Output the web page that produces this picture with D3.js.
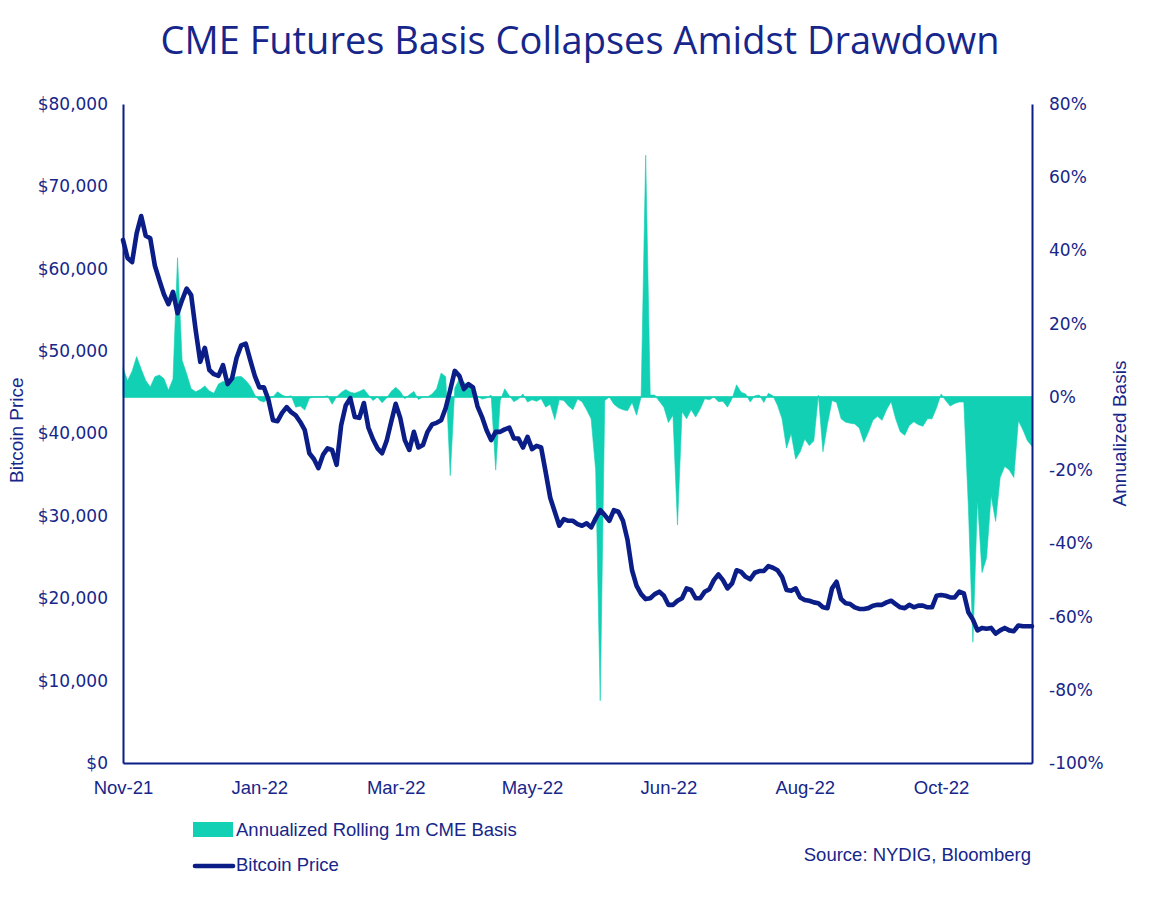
<!DOCTYPE html>
<html>
<head>
<meta charset="utf-8">
<script src="https://cdn.jsdelivr.net/npm/d3@7"></script>
<style>
  html, body { margin: 0; padding: 0; background: #ffffff; }
  svg { display: block; }
</style>
</head>
<body>
<svg id="chart" width="1160" height="905"></svg>
<script>
// ---------------- DATA ----------------
const title = "CME Futures Basis Collapses Amidst Drawdown";
const tickLabels = ["Nov-21", "Jan-22", "Mar-22", "May-22", "Jun-22", "Aug-22", "Oct-22"];
const tickIndex = [0, 30, 60, 90, 120, 150, 180];   // category (observation) index of each label
const priceTicks = [0, 10000, 20000, 30000, 40000, 50000, 60000, 70000, 80000];
const basisTicks = [-100, -80, -60, -40, -20, 0, 20, 40, 60, 80];

// Bitcoin price (USD), one value per observation
const btcPrice = [
  63500, 61300, 60800, 64300, 66400, 64000, 63700, 60400, 58600, 56900,
  55700, 57200, 54600, 56200, 57600, 56800, 52500, 48700, 50400, 47700,
  47200, 47000, 48300, 46000, 46700, 49200, 50700, 50900, 48900, 47000,
  45600, 45600, 44100, 41600, 41500, 42500, 43200, 42600, 42200, 41400,
  40400, 37600, 36900, 35800, 37400, 38200, 38000, 36200, 41000, 43400,
  44300, 42000, 41900, 43700, 40700, 39300, 38200, 37600, 39100, 41400,
  43600, 41900, 39200, 38000, 40200, 38300, 38600, 40200, 41100, 41300,
  41600, 43100, 45300, 47600, 47000, 45400, 46000, 45600, 43300, 42000,
  40400, 39200, 40200, 40200, 40500, 40700, 39400, 39400, 38300, 39600,
  38100, 38500, 38300, 35300, 32200, 30500, 28800, 29600, 29400, 29400,
  29000, 28800, 29100, 28600, 29700, 30700, 30100, 29400, 30700, 30500,
  29400, 27100, 23400, 21500, 20500, 19900, 20000, 20500, 20800, 20300,
  19200, 19200, 19700, 20000, 21200, 21000, 20000, 20000, 20800, 21100,
  22200, 22900, 22200, 21200, 21800, 23400, 23200, 22600, 22300, 23100,
  23300, 23300, 23900, 23700, 23400, 22600, 21000, 20900, 21200, 20100,
  19800, 19700, 19500, 19400, 18900, 18800, 21200, 22000, 19900, 19400,
  19300, 18900, 18700, 18700, 18800, 19100, 19200, 19200, 19500, 19700,
  19300, 18900, 18800, 19200, 18900, 19100, 19100, 18900, 18900, 20300,
  20400, 20300, 20100, 20100, 20800, 20600, 18300, 17400, 16100, 16400,
  16300, 16400, 15700, 16100, 16400, 16100, 16000, 16700, 16600, 16600,
  16600
];

// Annualized rolling 1m CME basis (%), one value per observation
const cmeBasis = [
  8, 4.4, 7, 11, 7.6, 4.5, 2.7, 5.5, 6, 5,
  1.8, 4.9, 38, 10, 6.3, 2.2, 1.4, 2, 3, 1.6,
  1, 3.5, 4.2, 4, 5, 5.5, 5.6, 4.5, 3, 0.5,
  -1, -1.4, -0.5, 0, 1.4, 0.5, 0, 0.3, -2.8, -2.5,
  -3.6, -0.4, 0, 0, 0, 0.3, -2, 0, 1.2, 2,
  1.3, 1, 1.5, 2.1, 0.5, -1, 0, -1.6, -0.3, 1.5,
  2.6, 1.5, -0.5, 0.6, 1.5, -0.7, 0, 0, 0.8, 2.2,
  6.5, 5.5, -21.5, 2.4, 4.9, 4, 3, 2.2, 0.2, -0.6,
  -0.3, 0.5, -20, -1, 2.2, 0.3, -1.3, -0.6, 0.8, -1.4,
  -0.8, -1.2, -0.5, -2.8, -2, -6.2, -0.8, -1, -2.5, -3.5,
  -0.6, -1.3, -3.5, -6, -20, -83, -1, 0, -2, -3,
  -3.5, -3.8, -1.5, -5, 0, 66, 0.5, 0.5, -1.2, -2.8,
  -7, -5, -35, -4, -6, -3.5, -5.5, -3.3, -0.5, -0.8,
  0, -1.3, -1.2, -2.8, -0.5, 3.3, 1.3, 0.8, -1.4, 0.3,
  0.5, -1.5, 1, 0.3, -2.3, -6, -14, -10, -17, -15,
  -11.5, -13.3, -12, 0.5, -15, -7.5, -1, -1.5, -6, -6.9,
  -7.2, -7.4, -8.5, -12.4, -9.6, -6.4, -5.3, -6.4, -3.5, -1.3,
  -6, -9.5, -10.5, -7.8, -6.8, -7.6, -8, -6, -6, -3,
  0.8, -1, -2.5, -1.8, -1.4, -1.4, -30, -67, -28, -48,
  -44, -27, -34, -22, -19, -20, -22, -6.5, -9, -12,
  -13.5
];

const seriesNames = ["Annualized Rolling 1m CME Basis", "Bitcoin Price"];
const sourceText = "Source: NYDIG, Bloomberg";
const leftTitle = "Bitcoin Price";
const rightTitle = "Annualized Basis";

// ---------------- CHART ----------------
const navy = "#0b1d86";
const textNavy = "#16268a";
const teal = "#12d0b3";

const W = 1160, H = 905;
const M = { top: 104, right: 128, bottom: 142, left: 123 };
const iw = W - M.left - M.right, ih = H - M.top - M.bottom;

const svg = d3.select("#chart");
const g = svg.append("g").attr("transform", `translate(${M.left},${M.top})`);

const x = d3.scaleLinear().domain([0, btcPrice.length - 1]).range([0, iw]);
const yP = d3.scaleLinear().domain([0, 80000]).range([ih, 0]);
const yB = d3.scaleLinear().domain([-100, 80]).range([ih, 0]);

// area (basis)
const area = d3.area()
  .x((d, i) => x(i))
  .y0(yB(0))
  .y1(d => yB(d));
g.append("path")
  .datum(cmeBasis)
  .attr("d", area)
  .attr("fill", teal)
  .attr("stroke", teal)
  .attr("stroke-width", 0.6);
g.append("line")
  .attr("x1", 0).attr("x2", iw)
  .attr("y1", yB(0)).attr("y2", yB(0))
  .attr("stroke", teal).attr("stroke-width", 1.5);

// price line
const line = d3.line()
  .x((d, i) => x(i))
  .y(d => yP(d));
g.append("path")
  .datum(btcPrice)
  .attr("d", line)
  .attr("fill", "none")
  .attr("stroke", navy)
  .attr("stroke-width", 4.6)
  .attr("stroke-linejoin", "round")
  .attr("stroke-linecap", "round");

// axes
const tickFont = "'DejaVu Sans', sans-serif";
const labFont = "'Liberation Sans', Arial, sans-serif";

const axL = g.append("g")
  .call(d3.axisLeft(yP).tickValues(priceTicks).tickSize(0).tickPadding(15)
    .tickFormat(d => "$" + d3.format(",")(d)));
const axR = g.append("g").attr("transform", `translate(${iw},0)`)
  .call(d3.axisRight(yB).tickValues(basisTicks).tickSize(0).tickPadding(17)
    .tickFormat(d => d + "%"));
const axB = g.append("g").attr("transform", `translate(0,${ih})`)
  .call(d3.axisBottom(x).tickValues(tickIndex).tickSize(0).tickPadding(18)
    .tickFormat((d, i) => tickLabels[i]));

[axL, axR, axB].forEach(a => {
  a.select(".domain").attr("stroke", navy).attr("stroke-width", 2);
});
axL.selectAll("text").attr("font-family", tickFont).attr("font-size", 17).attr("fill", textNavy);
axR.selectAll("text").attr("font-family", tickFont).attr("font-size", 17).attr("fill", textNavy);
axB.selectAll("text").attr("font-family", labFont).attr("font-size", 18.5).attr("fill", textNavy);

// axis titles
svg.append("text")
  .attr("transform", `translate(23,${M.top + ih * 0.495}) rotate(-90)`)
  .attr("text-anchor", "middle")
  .attr("font-family", labFont).attr("font-size", 19).attr("fill", textNavy)
  .text(leftTitle);
svg.append("text")
  .attr("transform", `translate(1126,${M.top + ih * 0.5}) rotate(-90)`)
  .attr("text-anchor", "middle")
  .attr("font-family", labFont).attr("font-size", 19).attr("fill", textNavy)
  .text(rightTitle);

// title
svg.append("text")
  .attr("x", 580).attr("y", 54)
  .attr("text-anchor", "middle")
  .attr("font-family", "'Open Sans', 'Liberation Sans', sans-serif")
  .attr("font-size", 38)
  .attr("fill", textNavy)
  .text(title);

// legend
const lg = svg.append("g");
lg.append("rect").attr("x", 193).attr("y", 822).attr("width", 40).attr("height", 15).attr("fill", teal);
lg.append("text").attr("x", 236).attr("y", 836)
  .attr("font-family", labFont).attr("font-size", 18.5).attr("fill", textNavy)
  .text(seriesNames[0]);
lg.append("line").attr("x1", 195).attr("x2", 233).attr("y1", 866).attr("y2", 866)
  .attr("stroke", navy).attr("stroke-width", 4.6).attr("stroke-linecap", "round");
lg.append("text").attr("x", 236).attr("y", 871)
  .attr("font-family", labFont).attr("font-size", 18.5).attr("fill", textNavy)
  .text(seriesNames[1]);

// source
svg.append("text").attr("x", 1031).attr("y", 861)
  .attr("text-anchor", "end")
  .attr("font-family", labFont).attr("font-size", 18.5).attr("fill", textNavy)
  .text(sourceText);
</script>
</body>
</html>
